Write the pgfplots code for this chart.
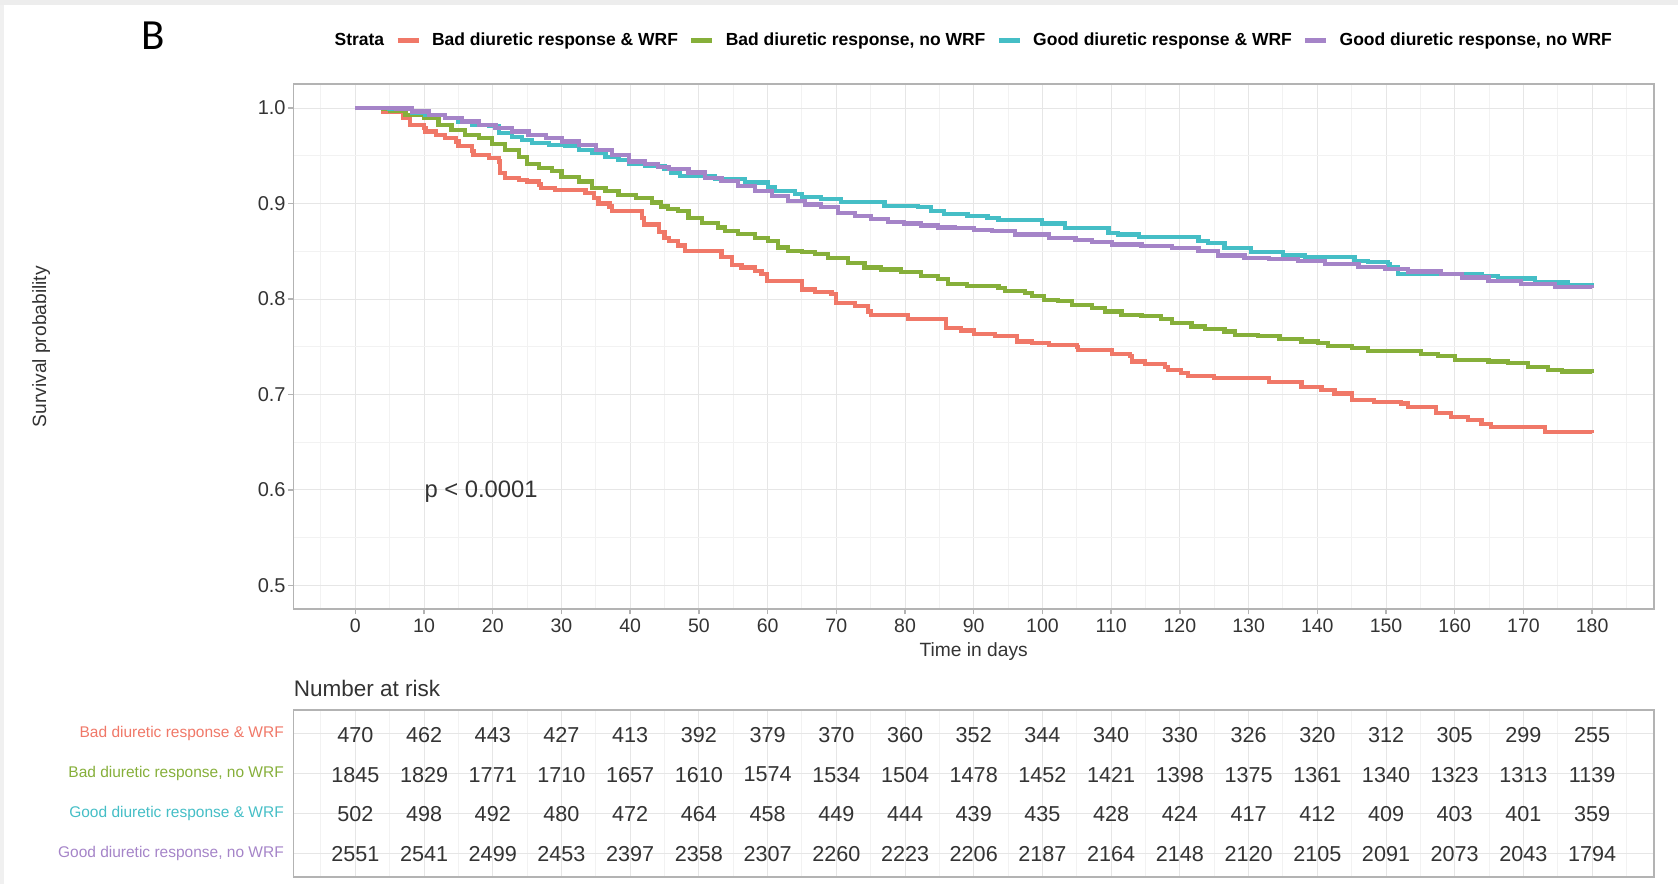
\documentclass[border=0pt]{standalone}
\usepackage{fontspec}
\setmainfont{Liberation Sans}
\newfontfamily\carlito{Carlito}
\usepackage{pgfplots}
\usepackage{pgfplotstable}
\pgfplotsset{compat=1.18}
\definecolor{cRed}{HTML}{F07868}
\definecolor{cGreen}{HTML}{86AF3A}
\definecolor{cCyan}{HTML}{45BEC6}
\definecolor{cPurple}{HTML}{A584C8}
\definecolor{gridc}{HTML}{E6E6E6}
\definecolor{gridm}{HTML}{F2F2F2}
\definecolor{boxc}{HTML}{B3B3B3}
\definecolor{txt}{HTML}{333333}

\pgfplotstableread{
d n
0 470
10 462
20 443
30 427
40 413
50 392
60 379
70 370
80 360
90 352
100 344
110 340
120 330
130 326
140 320
150 312
160 305
170 299
180 255
}\riskA
\pgfplotstableread{
d n
0 1845
10 1829
20 1771
30 1710
40 1657
50 1610
60 1574
70 1534
80 1504
90 1478
100 1452
110 1421
120 1398
130 1375
140 1361
150 1340
160 1323
170 1313
180 1139
}\riskB
\pgfplotstableread{
d n
0 502
10 498
20 492
30 480
40 472
50 464
60 458
70 449
80 444
90 439
100 435
110 428
120 424
130 417
140 412
150 409
160 403
170 401
180 359
}\riskC
\pgfplotstableread{
d n
0 2551
10 2541
20 2499
30 2453
40 2397
50 2358
60 2307
70 2260
80 2223
90 2206
100 2187
110 2164
120 2148
130 2120
140 2105
150 2091
160 2073
170 2043
180 1794
}\riskD

\begin{document}
\begin{tikzpicture}
\useasboundingbox (0pt,0pt) rectangle (839pt,442pt);
\fill[black!7] (0pt,439.5pt) rectangle (839pt,442pt);
\fill[black!6] (0pt,0pt) rectangle (2pt,439.5pt);
\node[font=\carlito\fontsize{21.5}{24}\selectfont, inner sep=0pt] at (76.5pt,424pt) {B};

\begin{axis}[
  at={(146.75pt,137.35pt)}, anchor=south west,
  scale only axis, width=680.25pt, height=262.55pt,
  xmin=-9, xmax=189, ymin=0.475, ymax=1.025,
  xtick={0,10,...,180}, minor xtick={-5,5,...,185},
  ytick={0.5,0.6,0.7,0.8,0.9,1.0}, minor ytick={0.55,0.65,0.75,0.85,0.95},
  grid=both,
  major grid style={gridc, line width=0.5pt},
  minor grid style={gridm, line width=0.5pt},
  axis line style={boxc, line width=0.9pt},
  tick align=outside, major tick length=2.5pt, minor tick length=0pt,
  tick style={boxc, line width=0.7pt},
  xtick pos=bottom, ytick pos=left,
  /pgf/number format/assume math mode=true,
  yticklabel style={/pgf/number format/fixed, /pgf/number format/fixed zerofill, /pgf/number format/precision=1, inner sep=0pt, anchor=east, xshift=-1.25pt, font=\fontsize{10}{12}\selectfont, text=txt},
  xticklabel style={inner sep=0pt, anchor=north, yshift=-2.3pt, font=\fontsize{9.75}{12}\selectfont, text=txt},
  xlabel={Time in days},
  xlabel style={at={(axis description cs:0.5,-0.0808)}, anchor=center, font=\fontsize{9.6}{12}\selectfont, text=txt},
  ylabel={Survival probability},
  ylabel style={at={(axis description cs:-0.1855,0.5)}, anchor=center, rotate=0, font=\fontsize{9.6}{12}\selectfont, text=txt},
  legend columns=-1,
  legend style={at={(axis description cs:0.0217,1.083)}, anchor=west, draw=none, fill=none, inner sep=0pt, column sep=5.6pt, font=\bfseries\fontsize{8.75}{10}\selectfont, nodes={inner sep=0pt}},
  legend image code/.code={\draw[#1, line width=2.2pt] (0pt,0pt) -- (10.5pt,0pt);},
]
\addlegendimage{empty legend}\addlegendentry{Strata}

\addplot[const plot, cRed, line width=2.1pt] coordinates {
(0,1.0) (4,0.9965) (7,0.9895) (8,0.9825) (10,0.979) (10.2,0.9755) (11.7,0.972) (13.1,0.9686) (14.6,0.965) (15,0.96) (17,0.955) (17.2,0.951) (19.4,0.9476) (20.9,0.944) (21,0.932) (21.8,0.9267) (23.8,0.925) (25,0.923) (26.7,0.92) (27,0.916) (29,0.914) (33.5,0.911) (34.7,0.906) (35.4,0.900) (37,0.897) (37.4,0.892) (41.7,0.885) (42,0.878) (44.2,0.870) (45,0.864) (45.6,0.861) (47,0.856) (48,0.850) (53.3,0.844) (54.8,0.836) (56.2,0.833) (58.2,0.829) (59.1,0.826) (59.9,0.819) (65,0.810) (66.9,0.807) (69.3,0.805) (70,0.796) (72.7,0.793) (74.6,0.787) (75.1,0.783) (80.4,0.779) (86,0.770) (88.2,0.767) (90,0.763) (93.1,0.761) (96.3,0.7556) (98.5,0.754) (100.9,0.752) (105,0.750) (105.2,0.747) (110.1,0.742) (112.7,0.740) (113,0.7346) (114.9,0.732) (117.8,0.729) (118.3,0.726) (120.2,0.7224) (121.2,0.719) (125,0.717) (133,0.713) (137.7,0.708) (140.6,0.7046) (142.5,0.701) (145,0.694) (148.3,0.6923) (152.2,0.6905) (153.2,0.687) (157.3,0.6806) (159.5,0.6764) (161.9,0.6736) (163.9,0.6694) (165.3,0.6658) (173.1,0.6606) (180,0.6599)};
\addlegendentry{Bad diuretic response \& WRF}

\addplot[const plot, cGreen, line width=2.1pt] coordinates {
(0,1.0) (4,0.999) (5,0.997) (7.3,0.993) (10,0.9895) (12.1,0.9825) (14,0.977) (16,0.972) (18,0.9686) (19.9,0.962) (21.8,0.956) (23.8,0.949) (25,0.941) (26.7,0.937) (28.6,0.934) (30,0.928) (32.5,0.923) (34.5,0.916) (36.4,0.913) (38.3,0.909) (40.8,0.906) (43.2,0.901) (44.5,0.897) (45.5,0.894) (47,0.892) (48.5,0.885) (50.4,0.880) (52.8,0.875) (53.8,0.871) (55.7,0.868) (58.2,0.864) (60.1,0.861) (61.5,0.854) (63,0.850) (65,0.849) (66.9,0.847) (68.8,0.843) (71.7,0.838) (74.1,0.833) (76.5,0.831) (79.4,0.828) (82.3,0.824) (84.8,0.821) (86.2,0.816) (89,0.8135) (93.6,0.8115) (94.6,0.808) (97.5,0.806) (98.5,0.803) (100.2,0.799) (102.3,0.7976) (104.3,0.794) (107.2,0.791) (109.1,0.787) (111.5,0.7836) (114.4,0.782) (117.3,0.779) (118.8,0.775) (121.7,0.7713) (123.6,0.7685) (126.5,0.766) (128,0.7626) (131.4,0.761) (134.5,0.758) (137.7,0.7556) (140.1,0.7539) (141.6,0.751) (145,0.7486) (147.4,0.7458) (155.1,0.7423) (157.6,0.740) (160,0.7363) (164.9,0.7345) (167.8,0.7327) (170.7,0.7292) (173.6,0.7257) (175.6,0.724) (180,0.7232)};
\addlegendentry{Bad diuretic response, no WRF}

\addplot[const plot, cCyan, line width=2.1pt] coordinates {
(0,1.0) (4.9,0.999) (8.3,0.995) (10.2,0.993) (13.1,0.9895) (15,0.986) (17,0.9825) (19.4,0.981) (20.9,0.974) (22.8,0.970) (24.3,0.9668) (25.7,0.963) (28.2,0.9616) (30.6,0.960) (32.5,0.956) (34.5,0.953) (36.4,0.949) (38.3,0.946) (39.8,0.941) (42.2,0.939) (45,0.936) (46,0.9325) (47.3,0.929) (52.4,0.9255) (56.7,0.922) (60.1,0.917) (61.1,0.913) (64,0.910) (65,0.907) (67.8,0.905) (70.7,0.902) (77,0.8975) (81.9,0.896) (83.8,0.892) (85.7,0.889) (89.1,0.887) (92,0.885) (93.6,0.8825) (99.9,0.879) (103.3,0.8745) (109.6,0.869) (111,0.8675) (114,0.8647) (122.7,0.861) (124.1,0.8587) (126.5,0.8535) (130.4,0.849) (135,0.8455) (138.2,0.844) (145.4,0.840) (147.4,0.8384) (150.3,0.8366) (150.5,0.833) (151.7,0.826) (163.9,0.8243) (166.3,0.8215) (171.7,0.8173) (176.5,0.8148) (180,0.8137)};
\addlegendentry{Good diuretic response \& WRF}

\addplot[const plot, cPurple, line width=2.1pt] coordinates {
(0,1.0) (6,0.9995) (8.3,0.9965) (10.7,0.993) (13.1,0.9895) (15.5,0.986) (18,0.9825) (20.4,0.979) (22.8,0.9755) (25.2,0.972) (27.7,0.9686) (30.1,0.965) (32.5,0.9616) (35,0.9564) (37.4,0.951) (39.8,0.944) (42.2,0.941) (44,0.938) (45.6,0.936) (48.5,0.9325) (50.9,0.927) (53.3,0.924) (55.7,0.9185) (58.2,0.913) (60.6,0.908) (63,0.903) (65.4,0.899) (67.8,0.896) (70.3,0.8905) (72.7,0.887) (75.1,0.8836) (77.5,0.881) (79.9,0.879) (82.3,0.877) (84.8,0.875) (87.2,0.874) (90,0.872) (92.7,0.871) (96,0.8675) (100.9,0.864) (104.8,0.8622) (107.2,0.8594) (110.1,0.857) (114.4,0.8552) (118.8,0.8535) (122.7,0.850) (125.6,0.8455) (129.4,0.843) (133,0.842) (137.2,0.8394) (141.1,0.8366) (146,0.8338) (149.8,0.8313) (153.2,0.8289) (158,0.826) (161,0.8225) (164.9,0.819) (169.7,0.8155) (174.6,0.813) (180,0.8113)};
\addlegendentry{Good diuretic response, no WRF}

\node[font=\fontsize{11.9}{14}\selectfont, text=txt, inner sep=0pt] at (axis cs:18.3,0.598) {p < 0.0001};
\end{axis}

\node[font=\fontsize{11.25}{13}\selectfont, text=txt, inner sep=0pt, anchor=west] at (146.75pt,97.85pt) {Number at risk};

\begin{axis}[
  at={(146.75pt,3.5pt)}, anchor=south west,
  scale only axis, width=680.25pt, height=83.5pt,
  xmin=-9, xmax=189, ymin=0.4, ymax=4.6, y dir=reverse,
  xtick={0,10,...,180}, minor xtick={-5,5,...,185}, xticklabels={},
  ytick={1,2,3,4},
  yticklabels={\textcolor{cRed}{Bad diuretic response \& WRF}, \textcolor{cGreen}{Bad diuretic response, no WRF}, \textcolor{cCyan}{Good diuretic response \& WRF}, \textcolor{cPurple}{Good diuretic response, no WRF}},
  yticklabel style={inner sep=0pt, anchor=east, xshift=-4.65pt, font=\fontsize{7.75}{9}\selectfont},
  grid=both,
  major grid style={gridc, line width=0.5pt},
  minor grid style={gridm, line width=0.5pt},
  axis line style={boxc, line width=0.9pt},
  major tick length=0pt, minor tick length=0pt,
  tick style={draw=none},
  nodes near coords, point meta=explicit symbolic,
  every node near coord/.append style={anchor=center, font=\fontsize{10.8}{12}\selectfont, text=txt, inner sep=0pt, yshift=-0.5pt},
]
\addplot[draw=none, mark=none] table[x=d, y expr=1, meta=n] {\riskA};
\addplot[draw=none, mark=none] table[x=d, y expr=2, meta=n] {\riskB};
\addplot[draw=none, mark=none] table[x=d, y expr=3, meta=n] {\riskC};
\addplot[draw=none, mark=none] table[x=d, y expr=4, meta=n] {\riskD};
\end{axis}
\end{tikzpicture}
\end{document}
